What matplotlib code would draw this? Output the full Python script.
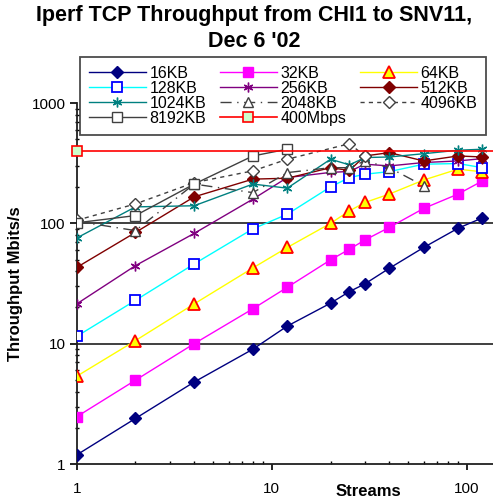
import matplotlib
matplotlib.use("Agg")
import matplotlib.pyplot as plt
from matplotlib.ticker import LogLocator, NullFormatter, FixedLocator, FixedFormatter

plt.rcParams["font.family"] = ["Liberation Sans", "DejaVu Sans"]

# number of parallel streams
streams = [1, 2, 4, 8, 12, 20, 25, 30, 40, 60, 90, 120]

# throughput in Mbits/s per TCP window size
kb16 = [1.19, 2.39, 4.8, 9.0, 14, 21.7, 27.1, 31.4, 42.3, 63, 91, 111]
kb32 = [2.47, 4.97, 10, 19.5, 29.4, 49.7, 61, 72.7, 92.5, 133, 175, 225]
kb64 = [5.36, 10.6, 21.4, 42.6, 63, 100, 127, 149, 175, 229, 282, 268]
kb128 = [11.5, 22.9, 46, 90, 119, 201, 240, 256, 269, 310, 314, 290]
kb256 = [21.4, 44.5, 82.5, 159, 240, 265, 270, 310, 300, 320, 330, 345]
kb512 = [43, 84, 166, 233, 237, 290, 275, 363, 387, 330, 363, 356]
kb1024 = [75.5, 137, 140, 212, 196, 341, 306, 352, 356, 379, 405, 413]

streams_2048 = [1, 2, 4, 8, 12, 20, 25, 30, 40, 60]
kb2048 = [104, 87, 212, 180, 264, 290, 290, 330, 290, 205]

streams_4096 = [1, 2, 4, 8, 12, 25, 30]
kb4096 = [106, 145, 218, 273, 341, 459, 363]

streams_8192 = [1, 2, 4, 8, 12]
kb8192 = [101, 116, 212, 363, 413]

streams_limit = [1, 1000]
limit_400 = [400, 400]

fig = plt.figure(figsize=(4.93, 5.0), dpi=100)
ax = fig.add_axes([0.1556, 0.072, 0.8444, 0.722])
ax.set_xscale("log")
ax.set_yscale("log")
ax.set_xlim(1, 136)
ax.set_ylim(1, 1000)

# horizontal grid at 10 and 100
for level in (10, 100):
    ax.axhline(level, color="#303030", lw=1.3, zorder=1)

asterisk = (6, 2, 0)
lw = 1.0

h = {}
h["16KB"], = ax.plot(streams, kb16, color="#000080", lw=lw, marker="D", ms=6,
                     mfc="#000080", mec="#000080", zorder=3)
h["32KB"], = ax.plot(streams, kb32, color="#ff00ff", lw=lw, marker="s", ms=7,
                     mfc="#ff00ff", mec="#ff00ff", zorder=3)
h["64KB"], = ax.plot(streams, kb64, color="#ffff00", lw=lw, marker="^", ms=8,
                     mfc="#ffff00", mec="#ff0000", mew=1.3, zorder=3)
h["128KB"], = ax.plot(streams, kb128, color="#00ffff", lw=lw, marker="s", ms=7,
                      mfc="white", mec="#0000ff", mew=1.3, zorder=3)
h["256KB"], = ax.plot(streams, kb256, color="#800080", lw=lw, marker=asterisk, ms=7,
                      mec="#800080", mew=1.0, zorder=3)
h["512KB"], = ax.plot(streams, kb512, color="#800000", lw=lw, marker="D", ms=6,
                      mfc="#800000", mec="#800000", zorder=3)
h["1024KB"], = ax.plot(streams, kb1024, color="#008080", lw=lw, marker=asterisk, ms=7,
                       mec="#008080", mew=1.0, zorder=3)
h["2048KB"], = ax.plot(streams_2048, kb2048, color="#404040", lw=lw, dashes=(8, 4, 1, 4),
                       marker="^", ms=7, mfc="white", mec="#404040", zorder=3)
h["4096KB"], = ax.plot(streams_4096, kb4096, color="#404040", lw=lw, dashes=(3, 3),
                       marker="D", ms=6, mfc="white", mec="#404040", zorder=3)
h["8192KB"], = ax.plot(streams_8192, kb8192, color="#404040", lw=lw,
                       marker="s", ms=7, mfc="white", mec="#404040", zorder=3)
h["400Mbps"], = ax.plot(streams_limit, limit_400, color="#ff0000", lw=1.2, marker="s", ms=7,
                        mfc="#ccffcc", mec="#ff0000", mew=1.2, markevery=[0],
                        zorder=3, clip_on=False)

# axes styling
for side in ("top", "right"):
    ax.spines[side].set_visible(False)
for side in ("left", "bottom"):
    ax.spines[side].set_linewidth(1.3)
    ax.spines[side].set_color("#202020")

ax.xaxis.set_major_locator(FixedLocator([1, 10, 100]))
ax.xaxis.set_major_formatter(FixedFormatter(["1", "10", "100"]))
ax.xaxis.set_minor_locator(LogLocator(base=10, subs=range(2, 10)))
ax.xaxis.set_minor_formatter(NullFormatter())
ax.yaxis.set_major_locator(FixedLocator([1, 10, 100, 1000]))
ax.yaxis.set_major_formatter(FixedFormatter(["1", "10", "100", "1000"]))
ax.yaxis.set_minor_locator(LogLocator(base=10, subs=range(2, 10)))
ax.yaxis.set_minor_formatter(NullFormatter())

ax.tick_params(axis="x", which="major", direction="out", length=4, width=1.2,
               labelsize=11, pad=9)
ax.tick_params(axis="x", which="minor", direction="in", length=2.5, width=1.0)
ax.tick_params(axis="y", which="major", direction="out", length=5, width=1.2,
               labelsize=11, pad=3)
ax.tick_params(axis="y", which="minor", direction="inout", length=3, width=1.0)

ax.set_ylabel("Throughput Mbits/s", fontsize=12, fontweight="bold", labelpad=6)
fig.text(0.748, 0.002, "Streams", fontsize=12, fontweight="bold",
         ha="center", va="bottom")

fig.suptitle("Iperf TCP Throughput from CHI1 to SNV11,\nDec 6 '02",
             x=0.515, y=0.99, fontsize=15.5, fontweight="bold", linespacing=1.3)

# legend reads row by row, three entries per row
order = ["16KB", "128KB", "1024KB", "8192KB",
         "32KB", "256KB", "2048KB", "400Mbps",
         "64KB", "512KB", "4096KB"]
leg = fig.legend([h[k] for k in order], order, loc="upper left",
                 bbox_to_anchor=(0.162, 0.886), ncol=3,
                 fontsize=11.5, handlelength=3.6, handletextpad=0.2,
                 columnspacing=0.85, labelspacing=0.0, borderpad=0.55,
                 borderaxespad=0, fancybox=False, frameon=True)
leg.get_frame().set_edgecolor("#202020")
leg.get_frame().set_linewidth(1.3)

fig.savefig("out.png", dpi=100)
